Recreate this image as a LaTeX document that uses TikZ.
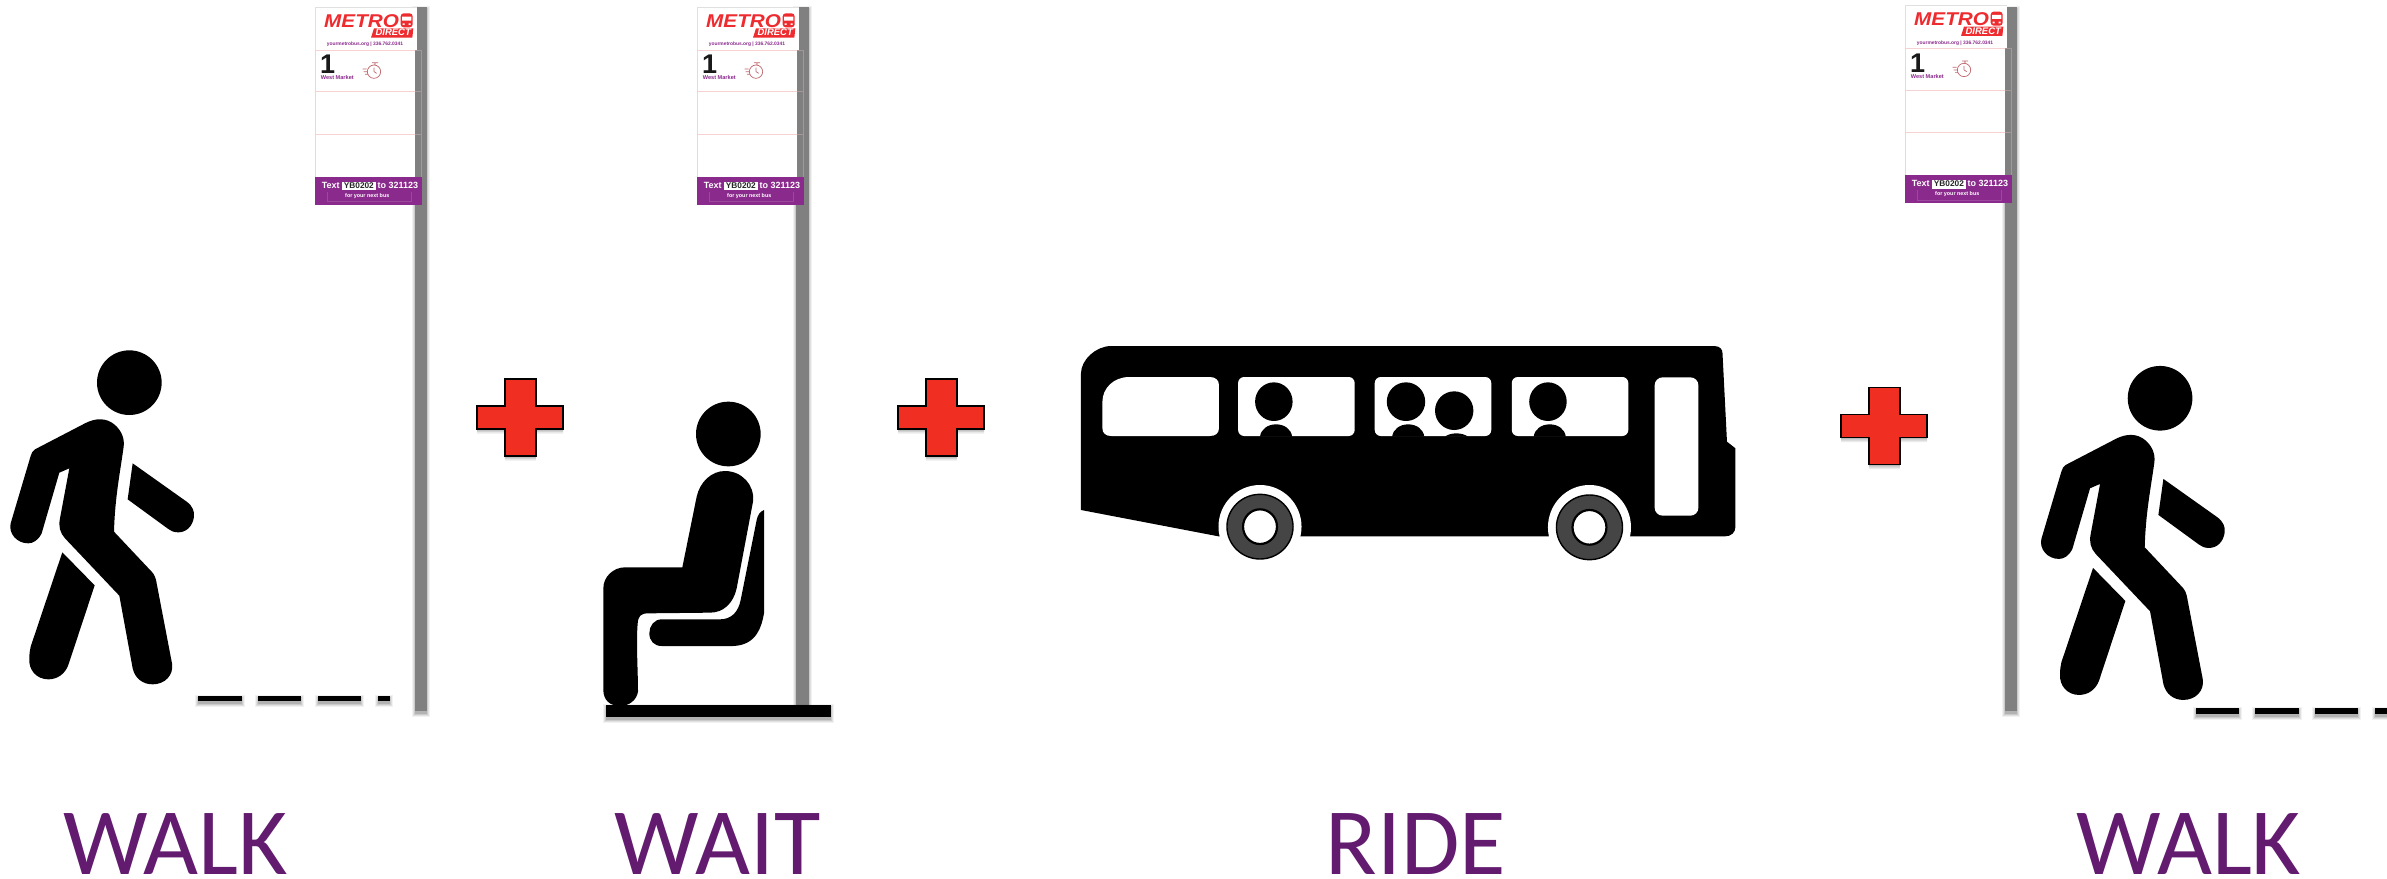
\documentclass[tikz,border=0pt]{standalone}
\usepackage{fontspec}
\setmainfont{Carlito}
\newfontfamily\signfont{Liberation Sans}
\definecolor{labelpurple}{HTML}{621B6F}
\definecolor{bandpurple}{HTML}{8A2A8C}
\definecolor{metrored}{HTML}{EE2B2F}
\definecolor{signpink}{HTML}{F6D2D2}
\definecolor{iconred}{HTML}{C0656B}
\definecolor{polegray}{HTML}{808080}
\definecolor{plusred}{HTML}{F02F22}
\definecolor{tyre}{HTML}{454545}
\tikzset{
  bigLabel/.style={text=labelpurple,font=\fontsize{95}{95}\selectfont,inner sep=0pt,anchor=base},
  signText/.style={inner sep=0pt,anchor=base west},
}
% soft shadow below a rectangle: x1,y1,x2,y2
\newcommand{\softrect}[4]{%
  \foreach \e/\o in {3/.05,2/.07,1/.09,0/.12}{%
    \fill[black,opacity=\o] ({#1-\e},{#2+2-\e}) rectangle ({#3+\e},{#4+3+\e});}}
\newcommand{\poleAt}[3]{% x1 x2 ybottom
  \softrect{#1}{7}{#2}{#3}
  \fill[polegray] (#1,7) rectangle (#2,#3);}
\newcommand{\dashAt}[3]{% x1 x2 y
  \softrect{#1}{#3-2.7}{#2}{#3+2.7}
  \fill[black] (#1,#3-2.7) rectangle (#2,#3+2.7);}
\newcommand{\plusAt}[2]{%
  \begin{scope}[shift={(#1pt,-#2pt)}]
    \def\crosspath{(27.8,0) -- (58.8,0) -- (58.8,27) -- (86,27) -- (86,50) -- (58.8,50) -- (58.8,77) -- (27.8,77) -- (27.8,50) -- (0,50) -- (0,27) -- (27.8,27) -- cycle}
    \foreach \e/\o in {4.5/.08,3/.1,1.5/.12}{%
      \fill[black,opacity=\o,shift={(0pt,-\e pt)}] \crosspath;}
    \draw[black,line width=1.6pt,fill=plusred,miter limit=4] \crosspath;
  \end{scope}}
\newcommand{\walker}[2]{%
  \begin{scope}[shift={(#1pt,-#2pt)},x=.33333pt,y=-.33333pt]
    \fill[black] (388,158) circle [radius=97];
    \fill[black] (105,358) -- (255,280) .. controls (285,264) and (320,262) .. (345,285)
      .. controls (365,303) and (374,325) .. (371,350) .. controls (360,430) and (345,500) .. (342,605)
      -- (455,725) .. controls (463,733) and (468,745) .. (470,760) -- (516,1000)
      .. controls (522,1035) and (495,1063) .. (458,1063) .. controls (428,1063) and (405,1045) .. (398,1015)
      -- (358,797) -- (195,625) .. controls (180,608) and (175,590) .. (180,565) -- (208,415) -- (178,428)
      -- (125,610) .. controls (115,630) and (100,640) .. (85,640) .. controls (50,640) and (25,610) .. (32,580)
      -- (92,378) .. controls (95,368) and (98,362) .. (105,358) -- cycle;
    \fill[black] (398,400) -- (560,515) .. controls (578,528) and (584,545) .. (582,560)
      .. controls (578,590) and (558,607) .. (535,607) .. controls (522,607) and (512,603) .. (505,597)
      -- (383,508) -- cycle;
    \fill[black] (187,667) -- (284,766) -- (205,1005) .. controls (195,1032) and (172,1048) .. (145,1048)
      .. controls (110,1048) and (85,1020) .. (88,985) .. controls (88,970) and (90,960) .. (92,950) -- cycle;
  \end{scope}}
\newcommand{\busstopsign}[3]{% xoffset yoffset prefix
  \begin{scope}[shift={(#1pt,-#2pt)},x=.33333pt,y=-.33333pt]
    \fill[white] (46,22) rectangle (350,150);
    \draw[black!12,line width=.4pt] (46,150) -- (46,22) -- (350,22);
    \fill[white] (46,150) rectangle (345,530);
    \draw[signpink,line width=.6pt] (46,530) -- (46,150) -- (345,150) (46,275) -- (345,275) (46,403) -- (345,403);
    \draw[signpink,opacity=.3,line width=.6pt] (345,150) -- (365,150) -- (365,530) (345,275) -- (365,275) (345,403) -- (365,403);
    \node[signText,text=metrored] (#3metro) at (72,82) {\scalebox{1.12}[1]{\signfont\bfseries\itshape\fontsize{18.5}{18.5}\selectfont METRO}};
    \fill[metrored,rounded corners=3pt] (302,40) rectangle (338,82);
    \fill[white] (306,50) rectangle (334,62) (308,70) rectangle (314,75) (326,70) rectangle (332,75);
    \fill[metrored] (222,85) -- (340,85) -- (337,113) -- (213,113) -- cycle;
    \node[signText,text=white] (#3direct) at (226,108) {\signfont\bfseries\itshape\fontsize{9.5}{9.5}\selectfont DIRECT};
    \node[signText,text=bandpurple] (#3web) at (80,138) {\signfont\bfseries\fontsize{4.9}{4.9}\selectfont yourmetrobus.org | 336.762.0341};
    \node[signText,text=black!90] (#3route) at (60,222) {\signfont\bfseries\fontsize{27}{27}\selectfont 1};
    \node[signText,text=bandpurple] (#3stop) at (62,240) {\signfont\bfseries\fontsize{5.6}{5.6}\selectfont West Market};
    \draw[iconred,line width=.7pt] (222,215) circle [radius=20] (225,195) -- (225,188) (216,188) -- (234,188)
      (188,207) -- (200,207) (191,215) -- (201,215) (195,223) -- (204,223) (222,215) -- (222,203) (222,215) -- (230,220);
    \fill[bandpurple] (46,530) rectangle (365,614);
    \draw[white,opacity=.15,line width=.4pt] (82,575) -- (82,605) -- (335,605) -- (335,575);
    \node[signText,text=white] (#3text) at (65,566) {\signfont\bfseries\fontsize{9}{9}\selectfont Text};
    \fill[white] (125,545) rectangle (228,571);
    \node[signText,text=black!85] (#3code) at (131,566) {\signfont\bfseries\fontsize{8.3}{8.3}\selectfont YB0202};
    \node[signText,text=white] (#3num) at (232,566) {\signfont\bfseries\fontsize{9}{9}\selectfont to 321123};
    \node[signText,text=white] (#3next) at (135,593) {\signfont\bfseries\fontsize{5.4}{5.4}\selectfont for your next bus};
  \end{scope}}
\begin{document}
\begin{tikzpicture}[x=1pt,y=-1pt]
\useasboundingbox (0,0) rectangle (2387,878);
\fill[white] (0,0) rectangle (2387,878);

% poles
\poleAt{415}{427.3}{711}
\poleAt{796.3}{808.7}{705}
\poleAt{2005}{2017.3}{711}

% signs
\busstopsign{300}{0}{a}
\busstopsign{682}{0}{b}
\busstopsign{1890}{-1.7}{c}

% first walker
\walker{0}{330}
\dashAt{198}{242}{698.5}
\dashAt{258}{301}{698.5}
\dashAt{317.5}{361}{698.5}
\dashAt{377.5}{390}{698.5}

% crosses
\plusAt{477}{379}
\plusAt{898}{379}
\plusAt{1841}{387.5}

% sitting person
\begin{scope}[shift={(570pt,-370pt)},x=.33333pt,y=-.33333pt]
  \fill[black] (475,192) circle [radius=97];
  \fill[black] (337,592) -- (380,380) .. controls (390,335) and (425,303) .. (465,303)
    .. controls (515,303) and (555,345) .. (549,395) -- (500,655)
    .. controls (490,700) and (460,728) .. (420,728) -- (235,730)
    .. controls (212,730) and (205,738) .. (203,760) .. controls (198,820) and (204,900) .. (204,965)
    .. controls (200,990) and (178,1008) .. (150,1008) .. controls (120,1008) and (100,990) .. (100,960)
    -- (100,655) .. controls (100,620) and (130,592) .. (165,592) -- cycle;
  \fill[black] (582,420) -- (582,730) .. controls (575,770) and (560,825) .. (490,828)
    -- (275,828) .. controls (252,828) and (238,812) .. (238,790) .. controls (238,768) and (252,748) .. (275,748)
    -- (450,748) .. controls (485,748) and (505,725) .. (512,690) -- (560,450)
    .. controls (563,435) and (570,425) .. (582,420) -- cycle;
\end{scope}
\softrect{606}{705}{831}{717}
\fill[black] (606,705) rectangle (831,717);

% bus
\begin{scope}[shift={(1060pt,-330pt)},x=.44643pt,y=-.33333pt]
  \fill[black] (47,130) .. controls (47,90) and (80,48) .. (115,48) -- (1465,48)
    .. controls (1478,48) and (1484,58) .. (1484,70) -- (1494,335) -- (1513,355) -- (1513,590)
    .. controls (1513,608) and (1503,619) .. (1490,619) -- (355,619) -- (47,540) -- cycle;
  \fill[white] (448,590) ellipse [x radius=93,y radius=125];
  \fill[white] (1186,592) ellipse [x radius=93,y radius=127];
  % windows
  \fill[white] (95,215) .. controls (95,175) and (120,141) .. (155,141) -- (335,141)
    .. controls (348,141) and (356,150) .. (356,165) -- (356,295) .. controls (356,310) and (348,318) .. (335,318)
    -- (115,318) .. controls (103,318) and (95,310) .. (95,295) -- cycle;
  \fill[white,rounded corners=6pt] (399,141) rectangle (660,318);
  \fill[white,rounded corners=6pt] (705,141) rectangle (966,318);
  \fill[white,rounded corners=6pt] (1012,141) rectangle (1273,318);
  \fill[white,rounded corners=8pt] (1332,142) rectangle (1430,557);
  % passengers
  \fill[black] (479,215) ellipse [x radius=42,y radius=58];
  \fill[black] (775,215) ellipse [x radius=43,y radius=58];
  \fill[black] (883,242) ellipse [x radius=43,y radius=58];
  \fill[black] (1093,215) ellipse [x radius=42,y radius=58];
  \fill[black] (448,320) .. controls (450,298) and (465,283) .. (484,283) .. controls (503,283) and (518,298) .. (520,320) -- cycle;
  \fill[black] (744,320) .. controls (746,298) and (761,283) .. (780,283) .. controls (799,283) and (814,298) .. (816,320) -- cycle;
  \fill[black] (862,320) .. controls (868,314) and (878,310) .. (888,310) .. controls (898,310) and (908,314) .. (914,320) -- cycle;
  \fill[black] (1061,320) .. controls (1063,298) and (1078,283) .. (1097,283) .. controls (1116,283) and (1131,298) .. (1133,320) -- cycle;
  % wheels
  \draw[black,line width=1.4pt,fill=tyre] (448,590) ellipse [x radius=74,y radius=97];
  \draw[black,line width=2.2pt,fill=white] (448,590) ellipse [x radius=38,y radius=52];
  \draw[black,line width=1.4pt,fill=tyre] (1186,592) ellipse [x radius=74,y radius=97];
  \draw[black,line width=2.2pt,fill=white] (1186,592) ellipse [x radius=38,y radius=52];
\end{scope}

% last walker
\walker{2030.7}{345.6}
\dashAt{2195.5}{2238.5}{711}
\dashAt{2255}{2298.5}{711}
\dashAt{2315}{2358}{711}
\dashAt{2375}{2387}{711}

% labels
\node[bigLabel] (walkA) at (175.5,874) {WALK};
\node[bigLabel] (wait) at (717.5,874) {WAIT};
\node[bigLabel] (ride) at (1416,874) {RIDE};
\node[bigLabel] (walkB) at (2189,874) {WALK};
\end{tikzpicture}
\end{document}
